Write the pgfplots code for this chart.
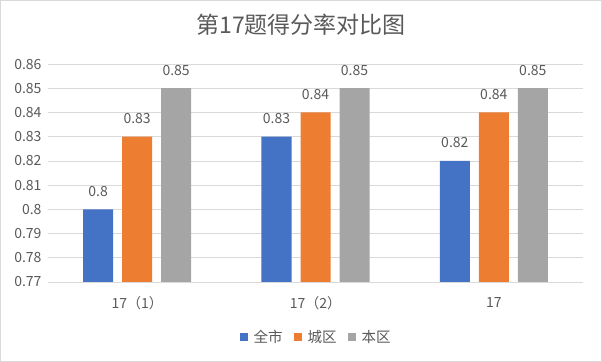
\documentclass[border=0pt]{standalone}
\usepackage{fontspec}
\setmainfont{Noto Sans CJK SC}
\usepackage{pgfplots}
\pgfplotsset{compat=1.18}
\definecolor{cBlue}{HTML}{4472C4}
\definecolor{cOrange}{HTML}{ED7D31}
\definecolor{cGray}{HTML}{A5A5A5}
\definecolor{txt}{HTML}{595959}
\definecolor{grid}{HTML}{D9D9D9}
\begin{document}
\begin{tikzpicture}
\draw[draw=gray!30, line width=1bp] (-47.5bp,-79.5bp) rectangle (553.5bp,281.5bp);
\begin{axis}[
  at={(0,0)}, anchor=south west,
  scale only axis, width=535bp, height=218bp,
  ybar=9bp, bar width=30bp,
  ymin=0.77, ymax=0.86, ytick distance=0.01,
  xmin=-0.5, xmax=2.5,
  xtick={0,1,2}, xticklabels={17（1）,17（2）,17},
  major tick length=0pt,
  axis line style={draw=none},
  axis x line*=bottom, axis y line*=left,
  ymajorgrids, grid style={draw=grid, line width=0.75bp},
  /pgf/number format/assume math mode=true,
  yticklabel style={/pgf/number format/fixed, /pgf/number format/precision=2, font=\fontsize{14bp}{16bp}\selectfont, text=txt, xshift=-3bp},
  xticklabel style={font=\fontsize{14bp}{16bp}\selectfont, text=txt, anchor=center, yshift=-21bp},
  nodes near coords,
  every node near coord/.append style={font=\fontsize{14bp}{16bp}\selectfont, text=txt, anchor=center, yshift=18bp},
  legend style={at={(0.5,-0.252)}, anchor=center, draw=none, legend columns=-1,
    font=\fontsize{14.5bp}{16bp}\selectfont, text=txt,
    nodes={inner sep=1bp},
    /tikz/every odd column/.append style={column sep=5bp},
    /tikz/every even column/.append style={column sep=10bp}},
  legend image code/.code={\fill[#1] (0bp,-4bp) rectangle (8bp,4bp);},
]
\addplot[fill=cBlue, draw=none] coordinates {(0,0.80) (1,0.83) (2,0.82)};
\addplot[fill=cOrange, draw=none] coordinates {(0,0.83) (1,0.84) (2,0.84)};
\addplot[fill=cGray, draw=none] coordinates {(0,0.85) (1,0.85) (2,0.85)};
\legend{全市,城区,本区}
\draw[draw=grid, line width=0.75bp] (axis cs:-0.5,0.77) -- (axis cs:2.5,0.77);
\end{axis}
\node[text=txt, font=\fontsize{23bp}{26bp}\selectfont] at (253bp,257bp) {第17题得分率对比图};
\end{tikzpicture}
\end{document}
